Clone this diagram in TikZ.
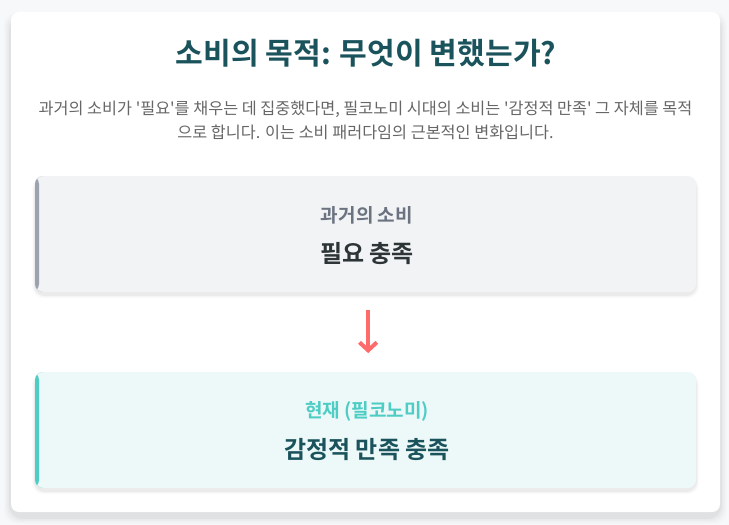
\documentclass[tikz,border=0pt]{standalone}
\usepackage{fontspec}
\setmainfont{Noto Sans CJK KR}
\newfontfamily\krfont{Noto Sans CJK KR}[BoldFont={Noto Sans CJK KR Bold}]
\usetikzlibrary{arrows.meta}
\definecolor{bgc}{HTML}{F7F8FA}
\definecolor{titlec}{HTML}{1A535C}
\definecolor{parac}{HTML}{666666}
\definecolor{box1fill}{HTML}{F2F3F5}
\definecolor{box1bar}{HTML}{9CA3AF}
\definecolor{box1sub}{HTML}{6B7280}
\definecolor{box1main}{HTML}{2D3436}
\definecolor{box2fill}{HTML}{EDF8F8}
\definecolor{box2bar}{HTML}{4ECDC4}
\definecolor{arrowc}{HTML}{FF6B6B}
\tikzset{
  stagebox/.style={draw=none, rounded corners=6pt, minimum width=495.75pt, minimum height=87pt, inner sep=0pt},
  subtxt/.style={font=\krfont\bfseries\fontsize{14.3pt}{17pt}\selectfont, inner sep=0pt, anchor=center},
  maintxt/.style={font=\krfont\bfseries\fontsize{18pt}{21pt}\selectfont, inner sep=0pt, anchor=center},
}
\begin{document}
\begin{tikzpicture}[x=0.75pt,y=-0.75pt]
\useasboundingbox (0,0) rectangle (729,525);
\fill[bgc] (0,0) rectangle (729,525);
% card shadow
\foreach \i/\o in {12/0.012,9/0.018,6/0.025,3/0.035}{
  \fill[black,opacity=\o,rounded corners=10pt] (11-\i*0.6,12+5-\i*0.4) rectangle (720+\i*0.6,512+5+\i*0.6);
}
\node[fill=white, rounded corners=6pt, minimum width=531.75pt, minimum height=375pt, inner sep=0pt] (card) at (365.5,262) {};
% title
\node[font=\krfont\bfseries\fontsize{22.6pt}{27pt}\selectfont, text=titlec, inner sep=0pt] (title) at (366,53) {소비의 목적: 무엇이 변했는가?};
\node[font=\krfont\fontsize{12.2pt}{18pt}\selectfont, text=parac, align=center, inner sep=0pt] (para) at (365.5,120)
  {과거의 소비가 '필요'를 채우는 데 집중했다면, 필코노미 시대의 소비는 '감정적 만족' 그 자체를 목적\\으로 합니다. 이는 소비 패러다임의 근본적인 변화입니다.};
% box shadows
\foreach \i/\o in {6/0.015,4/0.025,2/0.04}{
  \fill[black,opacity=\o,rounded corners=8pt] (35-\i*0.5,176+3-\i*0.3) rectangle (696+\i*0.5,292+3+\i*0.5);
  \fill[black,opacity=\o,rounded corners=8pt] (35-\i*0.5,372+3-\i*0.3) rectangle (696+\i*0.5,488+3+\i*0.5);
}
\node[stagebox, fill=box1fill, path picture={\fill[box1bar] (path picture bounding box.north west) rectangle ([xshift=3pt]path picture bounding box.south west);}] (past) at (365.5,234) {};
\node[stagebox, fill=box2fill, path picture={\fill[box2bar] (path picture bounding box.north west) rectangle ([xshift=3pt]path picture bounding box.south west);}] (now) at (365.5,430) {};
\node[subtxt, text=box1sub] (pastsub) at (367,215) {과거의 소비};
\node[maintxt, text=box1main] (pastmain) at (367,254) {필요 충족};
\node[subtxt, text=box2bar] (nowsub) at (367,411) {현재 (필코노미)};
\node[maintxt, text=titlec] (nowmain) at (367,450) {감정적 만족 충족};
% arrow
\draw[arrowc, line width=3pt, -{Straight Barb[length=6pt,width=13pt,line width=3pt]}, shorten <=13.5pt, shorten >=14pt] ([xshift=2pt]past.south) -- ([xshift=2pt]now.north);
\end{tikzpicture}
\end{document}
